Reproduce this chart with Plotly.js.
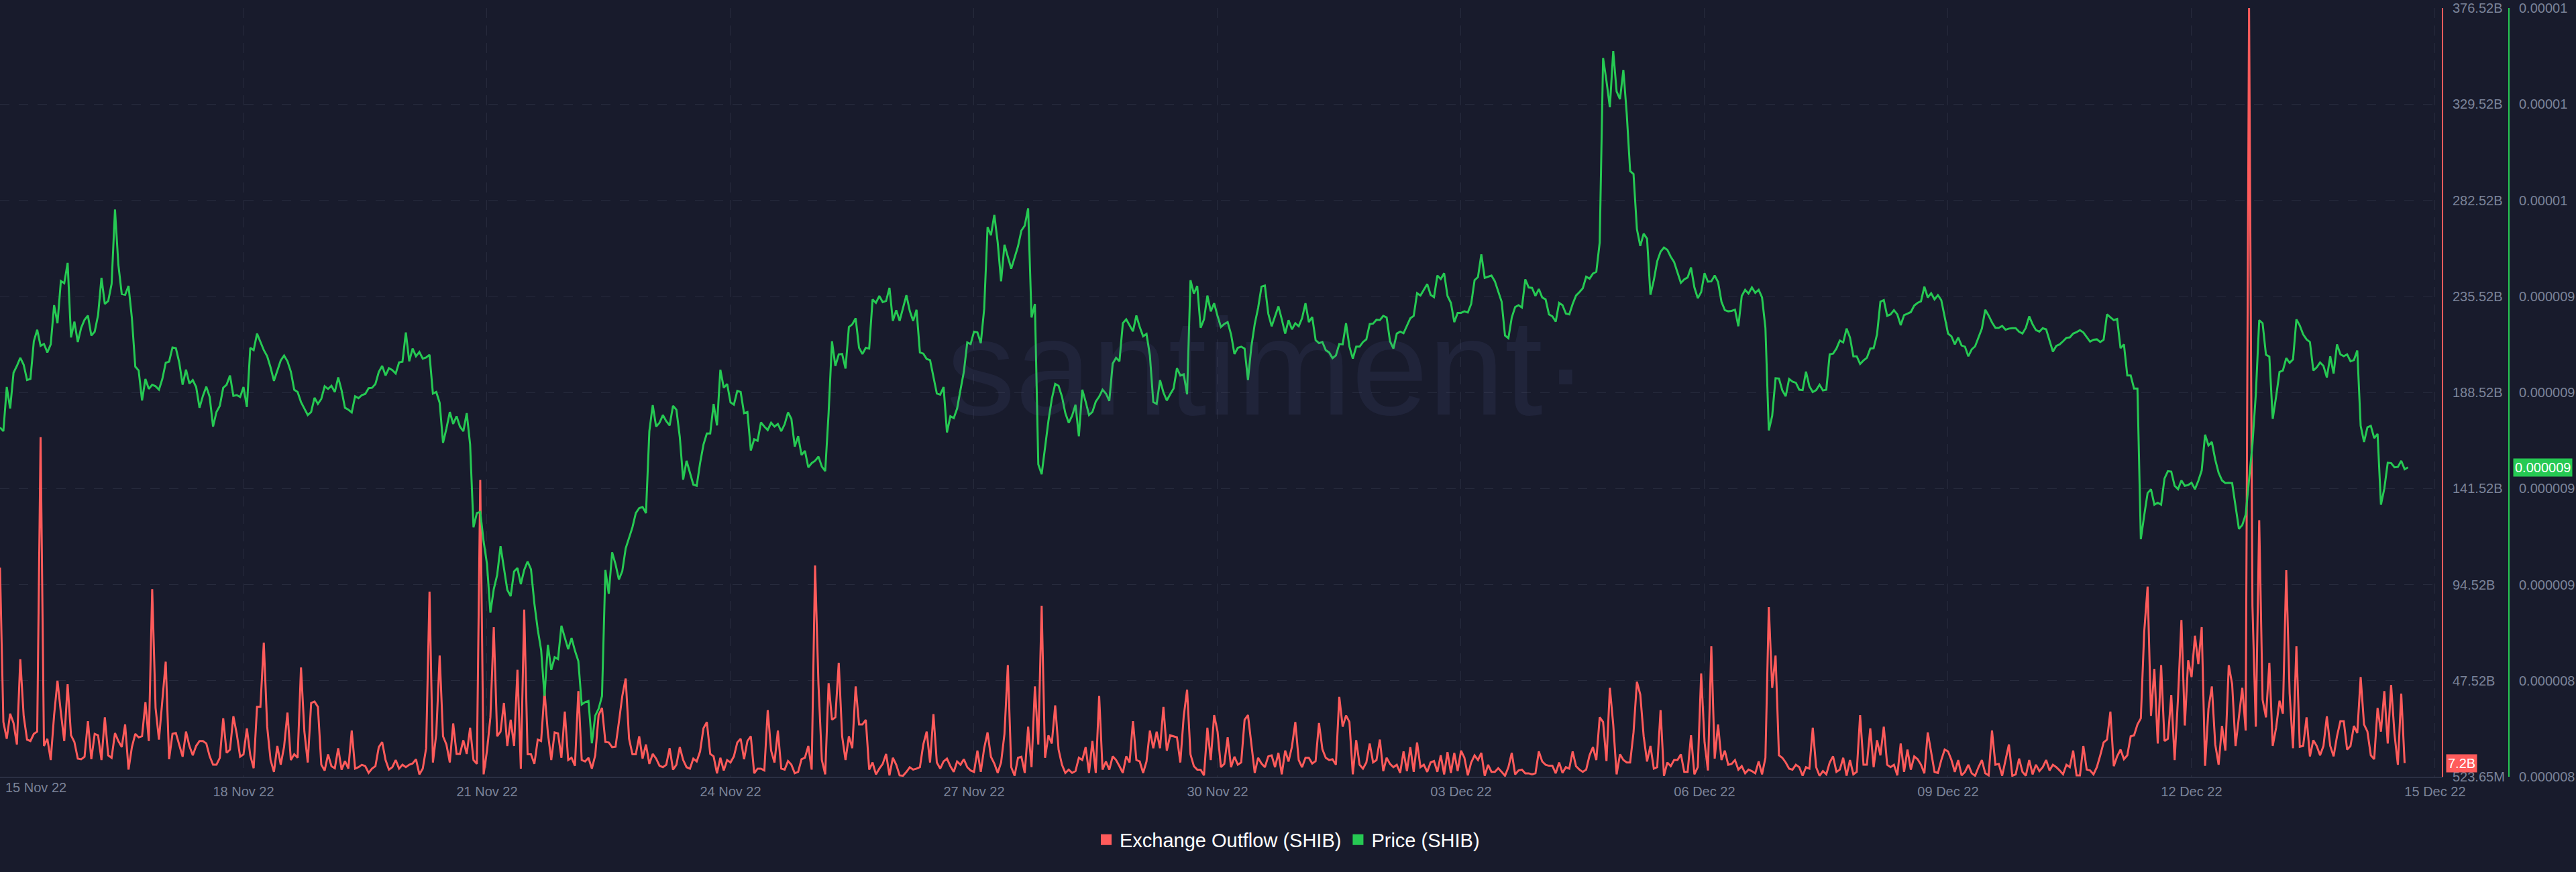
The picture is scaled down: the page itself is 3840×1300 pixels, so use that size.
<!DOCTYPE html>
<html>
<head>
<meta charset="utf-8">
<script src="https://cdn.plot.ly/plotly-3.0.1.min.js"></script>
<style>
  html, body { margin: 0; padding: 0; background: #181b2c; }
  #chart { width: 3840px; height: 1300px; }
</style>
</head>
<body>
<div id="chart"></div>
<script>
// ---- DATA (hourly, starting 15 Nov 2022 00:00 UTC) ----
const startTime = '2022-11-15 00:00';
const hourMs = 3600000;

// Exchange Outflow (SHIB), in billions of SHIB
const outflowB = [
102.8,27.3,19.1,31.4,26.8,16.3,58.0,30.3,18.7,18.0,
21.5,22.6,166.6,15.6,19.1,8.7,30.7,47.5,31.9,18.0,
45.8,20.8,17.5,9.4,9.1,10.3,27.7,9.1,21.5,20.8,
8.7,29.6,11.0,9.8,21.9,18.0,15.0,26.1,4.0,15.0,
21.5,19.8,20.3,37.0,18.0,92.3,34.2,18.7,37.7,56.8,
9.1,21.5,21.9,16.3,10.3,22.6,15.6,11.0,15.6,18.0,
18.0,16.8,10.5,6.4,6.4,9.8,29.1,12.2,13.8,30.1,
21.5,10.3,11.5,24.2,11.0,4.7,34.7,34.7,66.1,25.0,
8.7,2.9,15.6,6.4,15.2,31.9,8.7,11.5,9.8,54.0,
22.6,7.5,36.6,37.3,34.7,6.4,3.6,11.5,5.7,4.7,
14.5,4.0,8.2,4.5,23.1,4.5,5.2,6.4,5.7,2.4,
4.5,5.7,15.0,17.5,8.7,4.0,5.2,8.7,4.5,6.4,
5.2,6.4,7.0,9.1,1.7,4.5,14.5,91.1,7.5,21.5,
59.8,20.3,16.3,7.5,26.6,11.7,11.7,18.4,11.7,24.5,
8.7,6.8,145.7,1.7,
13.3,29.6,73.7,20.3,22.6,36.6,15.6,28.4,15.6,52.8,
4.5,82.3,11.5,11.5,6.8,18.7,18.0,42.4,21.9,8.7,
22.2,21.7,9.8,32.4,8.7,9.8,5.9,42.4,8.7,8.0,
9.8,4.5,11.0,30.7,34.2,17.5,17.3,15.0,15.2,27.3,
40.0,48.6,19.1,11.5,11.5,20.3,9.4,16.3,6.8,11.7,
9.4,5.9,5.2,6.4,14.5,4.0,6.4,15.0,8.7,5.2,
4.5,9.4,8.0,12.9,24.2,27.3,11.7,10.5,2.2,9.8,
3.6,8.7,7.5,10.5,17.3,19.1,9.1,18.0,20.3,2.2,
4.5,4.5,3.6,33.1,13.3,7.5,23.1,4.5,4.0,8.2,
6.4,2.2,2.9,9.1,9.8,15.6,4.0,103.9,45.8,8.7,
1.7,46.3,28.4,29.6,56.3,20.3,8.7,20.3,14.5,44.7,
26.1,26.1,28.4,4.0,7.5,1.7,4.5,6.8,11.7,1.2,
9.8,6.4,1.2,1.0,2.9,5.2,4.0,4.5,5.2,16.3,
22.6,7.5,31.2,7.5,4.5,8.0,9.4,5.7,2.9,8.0,
6.4,9.1,5.2,3.6,
2.9,13.3,2.9,14.5,22.2,10.3,7.0,2.4,7.5,21.5,
55.1,5.2,1.0,9.8,10.3,2.4,25.0,5.2,44.7,16.3,
84.2,9.8,20.8,16.8,35.4,13.8,6.4,2.4,4.0,2.4,
3.3,9.8,8.7,15.0,2.4,18.0,2.4,40.0,4.0,8.0,
4.0,10.5,8.7,5.7,2.4,10.5,7.5,27.7,8.7,8.0,
2.4,8.0,23.1,14.5,22.6,14.5,34.7,13.3,20.8,20.3,
19.8,7.5,30.1,43.1,11.5,5.7,4.0,4.0,1.2,24.5,
8.7,30.7,22.6,5.2,6.8,19.8,5.2,10.3,6.4,7.5,
28.4,30.7,17.5,2.4,9.8,7.0,5.2,10.5,11.0,5.2,
12.2,1.7,13.3,8.0,15.2,27.3,8.7,5.2,9.8,9.8,7.0,
8.2,26.8,14.0,9.8,8.7,9.1,6.4,39.6,25.0,30.5,
27.3,1.7,18.4,6.4,4.5,7.5,16.8,7.5,8.7,18.7,
3.3,9.8,6.8,5.2,6.4,2.4,12.9,3.3,15.0,2.9,
17.3,5.2,6.4,2.9,7.5,8.2,2.9,11.0,1.7,12.6,
2.4,12.2,3.3,13.3,
9.8,
1.2,7.5,11.0,8.7,12.2,1.0,6.4,2.9,2.9,4.7,
2.9,1.0,5.2,12.2,1.7,3.6,4.0,2.2,2.2,1.7,
2.2,12.9,8.0,6.4,5.9,5.9,2.2,7.5,2.4,5.2,
4.5,12.9,5.7,4.0,2.9,4.0,11.0,15.0,8.7,29.6,
27.3,8.2,44.0,26.1,1.7,11.5,8.7,7.5,7.5,22.2,
47.0,40.7,20.3,8.0,15.6,4.5,5.2,33.1,1.0,7.5,
5.7,8.7,8.7,11.5,2.9,2.9,20.8,1.7,5.2,51.0,
17.5,3.6,64.4,9.4,26.1,8.7,13.3,6.4,6.8,8.7,
4.0,5.7,2.2,4.0,3.3,2.2,8.0,1.7,9.8,83.5,
44.0,59.8,11.0,9.8,7.5,4.5,4.0,6.4,5.2,1.0,
5.2,4.5,24.5,5.2,1.0,3.3,1.7,7.5,10.5,2.9,
4.0,9.8,1.0,8.7,1.7,2.9,30.7,6.4,6.4,24.2,
5.2,18.4,11.0,25.0,6.4,5.2,6.4,1.2,16.8,2.9,
13.8,4.0,10.5,9.1,6.4,2.2,22.2,12.2,2.9,2.4,
8.7,13.8,12.9,8.7,
2.9,8.7,1.2,2.9,6.4,2.2,1.0,5.2,8.7,2.2,
1.2,23.1,6.4,6.8,1.0,8.7,16.3,1.0,1.7,9.4,
2.9,1.0,8.7,1.7,6.4,3.3,5.2,8.7,3.6,6.4,
5.2,3.6,1.7,6.4,5.2,13.3,1.2,1.2,15.6,4.0,
3.6,1.7,5.2,11.0,17.3,18.7,32.4,5.7,10.5,13.8,
9.1,11.0,20.3,20.8,26.1,29.1,71.4,93.5,30.3,53.3,
16.8,55.1,18.0,19.1,40.5,8.7,39.3,77.2,25.6,57.5,
49.3,69.5,55.6,73.7,5.9,33.8,44.7,16.3,6.4,25.4,
13.3,55.1,45.8,15.6,29.6,44.0,23.1,376.52,84.2,25.0,
126.0,38.2,29.6,56.3,15.6,24.5,37.7,31.4,101.6,41.2,
14.5,64.4,15.2,15.6,29.6,10.5,18.4,15.6,11.0,15.6,
30.1,15.6,10.5,20.3,27.7,27.7,13.8,15.6,25.4,21.9,
49.3,26.1,22.6,11.0,9.1,34.2,22.6,42.4,16.8,45.4,
21.5,6.4,41.2,7.2
];

// Price (SHIB), in millionths of a US dollar
const priceMicroUsd = [
8.909,8.899,9.014,8.958,9.051,9.069,9.090,9.072,9.032,9.035,
9.133,9.163,9.121,9.126,9.104,9.125,9.227,9.180,9.290,9.284,
9.337,9.143,9.184,9.131,9.168,9.189,9.200,9.148,9.158,9.201,
9.298,9.230,9.238,9.282,9.476,9.332,9.256,9.254,9.277,9.193,
9.067,9.057,8.979,9.035,9.009,9.020,9.016,9.007,9.035,9.077,
9.080,9.117,9.115,9.078,9.020,9.059,9.023,9.032,9.014,8.960,
8.991,9.015,8.988,8.911,8.949,8.965,9.012,9.020,9.044,8.991,
8.993,8.988,9.014,8.962,9.116,9.110,9.153,9.131,9.110,9.094,
9.065,9.030,9.058,9.083,9.096,9.081,9.054,9.007,9.001,8.975,
8.958,8.941,8.949,8.986,8.970,8.983,9.016,9.009,9.017,9.001,
9.039,9.005,8.960,8.955,8.948,8.990,8.985,8.993,8.996,9.011,
9.012,9.022,9.053,9.069,9.044,9.063,9.058,9.049,9.078,9.080,
9.156,9.081,9.114,9.094,9.105,9.088,9.091,9.098,8.997,9.001,
8.973,8.869,8.906,8.949,8.918,8.938,8.911,8.899,8.946,8.865,
8.649,8.686,8.689,8.612,
8.553,8.427,8.488,8.525,8.600,8.544,8.486,8.470,8.534,8.543,
8.501,8.538,8.560,8.540,8.451,8.383,8.330,8.210,8.343,8.278,
8.311,8.306,8.393,8.362,8.332,8.361,8.328,8.301,8.188,8.194,
8.197,8.087,8.159,8.177,8.210,8.538,8.476,8.584,8.553,8.513,
8.535,8.594,8.622,8.649,8.686,8.699,8.702,8.686,8.899,8.967,
8.911,8.921,8.941,8.925,8.914,8.965,8.955,8.884,8.773,8.822,
8.791,8.760,8.757,8.816,8.864,8.893,8.893,8.970,8.914,9.059,
9.012,9.022,8.974,8.968,9.004,9.001,8.946,8.949,8.849,8.878,
8.874,8.922,8.911,8.902,8.921,8.911,8.918,8.899,8.917,8.948,
8.931,8.859,8.886,8.837,8.848,8.805,8.816,8.822,8.833,8.807,
8.795,8.946,9.133,9.069,9.099,9.100,9.062,9.170,9.177,9.193,
9.116,9.100,9.116,9.114,9.242,9.233,9.251,9.235,9.238,9.272,
9.186,9.214,9.186,9.220,9.253,9.212,9.186,9.215,9.104,9.101,
9.087,9.084,9.042,8.997,8.994,9.014,8.896,8.938,8.933,8.958,
9.007,9.054,9.130,9.126,
9.158,9.156,9.128,9.217,9.430,9.409,9.462,9.390,9.289,9.384,
9.353,9.322,9.351,9.380,9.421,9.434,9.479,9.195,9.230,8.813,
8.787,8.859,8.926,8.983,9.022,9.017,8.989,8.946,8.921,8.939,
8.968,8.886,9.007,8.976,8.941,8.949,8.976,8.989,9.007,8.997,
8.978,9.075,9.090,9.081,9.180,9.190,9.174,9.159,9.200,9.170,
9.146,9.152,9.096,8.975,8.970,9.032,9.000,8.979,8.995,9.010,
9.063,9.044,9.047,8.995,9.292,9.257,9.277,9.168,9.190,9.252,
9.211,9.232,9.199,9.170,9.178,9.183,9.151,9.100,9.116,9.119,
9.114,9.032,9.119,9.178,9.220,9.275,9.278,9.205,9.172,9.199,
9.224,9.190,9.153,9.188,9.164,9.180,9.172,9.193,9.232,9.183,
9.196,9.136,9.128,9.131,9.110,9.104,9.089,9.096,9.126,9.125,
9.180,9.119,9.088,9.119,9.119,9.131,9.138,9.178,9.179,9.189,9.188,
9.199,9.195,9.133,9.114,9.153,9.158,9.154,9.173,9.193,9.199,
9.258,9.252,9.267,9.282,9.254,9.248,9.304,9.295,9.310,9.251,
9.233,9.183,9.207,9.207,
9.211,
9.208,9.230,9.292,9.300,9.359,9.298,9.301,9.304,9.289,9.263,
9.236,9.148,9.141,9.195,9.222,9.227,9.221,9.294,9.273,9.272,
9.251,9.269,9.247,9.242,9.203,9.198,9.184,9.233,9.227,9.205,
9.203,9.230,9.252,9.261,9.271,9.301,9.296,9.309,9.314,9.390,
9.870,9.810,9.742,9.888,9.783,9.763,9.839,9.724,9.576,9.568,
9.425,9.381,9.413,9.400,9.254,9.292,9.341,9.366,9.377,9.371,
9.353,9.339,9.313,9.285,9.294,9.299,9.325,9.273,9.245,9.261,
9.310,9.288,9.289,9.304,9.287,9.236,9.214,9.211,9.212,9.215,
9.172,9.251,9.267,9.257,9.273,9.259,9.267,9.247,9.168,8.901,
8.939,9.037,9.036,9.005,8.990,9.035,9.028,9.025,9.007,9.006,
9.054,9.016,9.001,9.006,9.020,9.005,9.007,9.099,9.101,9.114,
9.135,9.130,9.166,9.143,9.094,9.094,9.074,9.083,9.090,9.114,
9.115,9.151,9.236,9.240,9.199,9.203,9.214,9.203,9.175,9.201,
9.205,9.209,9.226,9.233,9.237,9.275,9.247,9.258,9.242,9.253,
9.240,9.193,9.153,9.146,
9.125,9.143,9.122,9.119,9.094,9.112,9.120,9.143,9.166,9.215,
9.200,9.182,9.168,9.168,9.173,9.163,9.166,9.167,9.167,9.158,9.153,
9.168,9.198,9.177,9.162,9.158,9.167,9.164,9.133,9.106,9.121,
9.125,9.133,9.142,9.143,9.153,9.157,9.162,9.156,9.143,9.132,
9.137,9.138,9.131,9.137,9.203,9.196,9.188,9.191,9.115,9.125,
9.044,9.044,9.010,9.010,8.618,8.680,8.738,8.748,8.708,8.713,
8.708,8.776,8.795,8.794,8.757,8.748,8.771,8.757,8.759,8.765,
8.748,8.770,8.797,8.890,8.862,8.871,8.825,8.791,8.771,8.764,
8.765,8.764,8.705,8.645,8.655,8.682,8.773,8.865,8.995,9.188,
9.180,9.098,9.093,8.931,8.989,9.053,9.057,9.089,9.077,9.086,
9.190,9.174,9.151,9.138,9.131,9.057,9.065,9.078,9.069,9.039,
9.094,9.049,9.125,9.099,9.094,9.099,9.081,9.084,9.109,8.913,
8.871,8.909,8.913,8.881,8.892,8.708,8.750,8.817,8.816,8.805,
8.806,8.822,8.800,8.805
];

// Axis ticks
const outflowTickB = [0.52365, 47.52, 94.52, 141.52, 188.52, 235.52, 282.52, 329.52, 376.52];
const outflowTickText = ['523.65M','47.52B','94.52B','141.52B','188.52B','235.52B','282.52B','329.52B','376.52B'];
const priceTickMicro = [8, 8.25, 8.5, 8.75, 9, 9.25, 9.5, 9.75, 10];
const priceTickText = ['0.000008','0.000008','0.000009','0.000009','0.000009','0.000009','0.00001','0.00001','0.00001'];
const dateTicks = ['2022-11-15','2022-11-18','2022-11-21','2022-11-24','2022-11-27','2022-11-30','2022-12-03','2022-12-06','2022-12-09','2022-12-12','2022-12-15'];
const dateTickText = ['15 Nov 22','18 Nov 22','21 Nov 22','24 Nov 22','27 Nov 22','30 Nov 22','03 Dec 22','06 Dec 22','09 Dec 22','12 Dec 22','15 Dec 22'];
const xRange = ['2022-11-15 00:00', '2022-12-15 02:00'];
const seriesNames = ['Exchange Outflow (SHIB)', 'Price (SHIB)'];
const lastOutflowText = '7.2B';
const lastPriceText = '0.000009';
const watermarkText = 'santiment\u00b7';

// ---- STYLE ----
const BG = '#181b2c';
const RED = '#ff5b5b';
const GREEN = '#26c953';
const GRID = '#272b3d';
const TICK = '#7b8399';
const FONT = 'Liberation Sans, Arial, sans-serif';

const outflowTrace = {
  type: 'scatter', mode: 'lines', name: seriesNames[0],
  x0: startTime, dx: hourMs,
  y: outflowB.map(v => v * 1e9),
  yaxis: 'y', line: { color: RED, width: 3 },
  showlegend: false, hoverinfo: 'skip'
};
const priceTrace = {
  type: 'scatter', mode: 'lines', name: seriesNames[1],
  x0: startTime, dx: hourMs,
  y: priceMicroUsd.map(v => v * 1e-6),
  yaxis: 'y2', line: { color: GREEN, width: 3 },
  showlegend: false, hoverinfo: 'skip'
};
const legendOutflow = {
  type: 'scatter', mode: 'markers', name: seriesNames[0],
  x: [null], y: [null], yaxis: 'y',
  marker: { symbol: 'square', size: 18, color: RED }
};
const legendPrice = {
  type: 'scatter', mode: 'markers', name: seriesNames[1],
  x: [null], y: [null], yaxis: 'y2',
  marker: { symbol: 'square', size: 18, color: GREEN }
};

const plotRight = 3640 / 3840;

const layout = {
  width: 3840, height: 1300,
  paper_bgcolor: BG, plot_bgcolor: BG,
  margin: { l: 0, r: 0, t: 12, b: 142 },
  font: { family: FONT, color: TICK, size: 20 },
  showlegend: true,
  legend: {
    orientation: 'h', x: 0.5, xanchor: 'center', y: -0.082, yanchor: 'middle',
    font: { size: 29, color: '#ffffff', family: FONT },
    bgcolor: 'rgba(0,0,0,0)', itemwidth: 30, tracegroupgap: 0
  },
  xaxis: {
    type: 'date', domain: [0, plotRight], range: xRange,
    tickmode: 'array', tickvals: dateTicks, ticktext: [''].concat(dateTickText.slice(1)),
    showgrid: true, gridcolor: GRID, gridwidth: 1, griddash: '15px,11px',
    showline: true, linecolor: '#2b3043', linewidth: 2,
    ticks: 'outside', ticklen: 3, tickcolor: 'rgba(0,0,0,0)',
    tickfont: { size: 20, color: TICK, family: FONT },
    zeroline: false, fixedrange: true
  },
  yaxis: {
    side: 'right', anchor: 'x',
    range: [outflowTickB[0] * 1e9, outflowTickB[outflowTickB.length - 1] * 1e9],
    tickmode: 'array', tickvals: outflowTickB.map(v => v * 1e9), ticktext: outflowTickText,
    showgrid: true, gridcolor: GRID, gridwidth: 1, griddash: '14px,14px',
    showline: true, linecolor: RED, linewidth: 2,
    ticks: 'outside', ticklen: 10, tickcolor: 'rgba(0,0,0,0)',
    tickfont: { size: 20, color: TICK, family: FONT },
    zeroline: false, fixedrange: true
  },
  yaxis2: {
    overlaying: 'y', side: 'right', anchor: 'free', position: 3740 / 3840,
    range: [priceTickMicro[0] * 1e-6, priceTickMicro[priceTickMicro.length - 1] * 1e-6],
    tickmode: 'array', tickvals: priceTickMicro.map(v => v * 1e-6), ticktext: priceTickText,
    showgrid: false,
    showline: true, linecolor: GREEN, linewidth: 2,
    ticks: 'outside', ticklen: 10, tickcolor: 'rgba(0,0,0,0)',
    tickfont: { size: 20, color: TICK, family: FONT },
    zeroline: false, fixedrange: true
  },
  annotations: [
    {
      text: watermarkText, xref: 'paper', yref: 'paper', x: 0.492, y: 0.534,
      xanchor: 'center', yanchor: 'middle', showarrow: false,
      font: { family: FONT, size: 205, color: 'rgba(110,120,185,0.10)' }
    },
    {
      text: dateTickText[0], xref: 'x', yref: 'paper', x: dateTicks[0], y: 0,
      xanchor: 'left', yanchor: 'top', xshift: 6, yshift: -3, showarrow: false,
      font: { size: 20, color: TICK, family: FONT }
    },
    {
      text: lastOutflowText, xref: 'paper', yref: 'y', x: 3646 / 3840,
      y: outflowB[outflowB.length - 1] * 1e9, xanchor: 'left', yanchor: 'middle',
      showarrow: false, bgcolor: RED, borderpad: 2,
      font: { size: 20, color: '#ffffff', family: FONT }
    },
    {
      text: lastPriceText, xref: 'paper', yref: 'y2', x: 3746 / 3840,
      y: priceMicroUsd[priceMicroUsd.length - 1] * 1e-6, xanchor: 'left', yanchor: 'middle',
      showarrow: false, bgcolor: GREEN, borderpad: 2,
      font: { size: 20, color: '#ffffff', family: FONT }
    }
  ]
};

Plotly.newPlot('chart', [outflowTrace, priceTrace, legendOutflow, legendPrice], layout,
  { staticPlot: true, displayModeBar: false });
</script>
</body>
</html>
